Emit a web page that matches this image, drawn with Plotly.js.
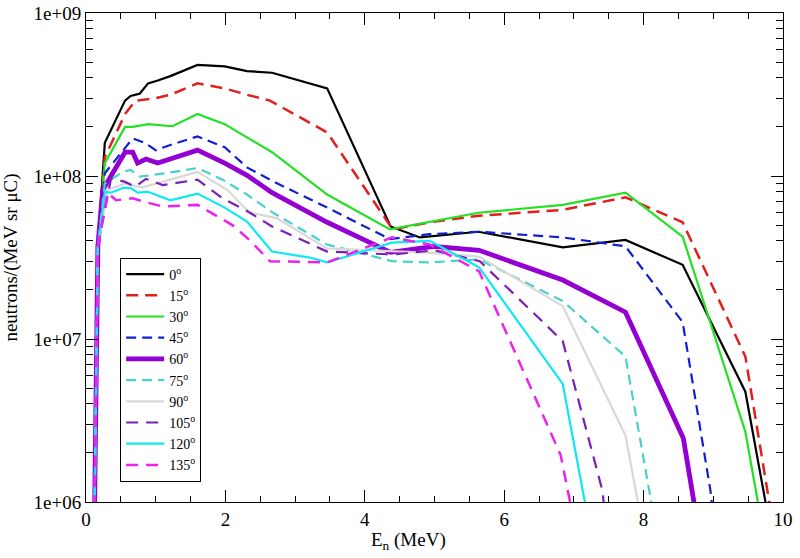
<!DOCTYPE html>
<html>
<head>
<meta charset="utf-8">
<script src="https://cdn.plot.ly/plotly-3.0.1.min.js"></script>
<style>html,body{margin:0;padding:0;background:#fff;}#chart{width:800px;height:558px;}</style>
</head>
<body>
<div id="chart"></div>
<script>
// Energies (MeV) and yields (neutrons/(MeV sr uC)) per angle
const e0   = [0.12, 0.17, 0.27, 0.56, 0.64, 0.77, 0.89, 1.03, 1.21, 1.6, 1.99, 2.31, 2.67, 3.46, 4.37, 4.79, 5.63, 6.84, 7.74, 8.56, 9.46, 9.79];
const y0   = [7e5, 3.7e7, 1.6e8, 2.9e8, 3.1e8, 3.2e8, 3.7e8, 3.85e8, 4.1e8, 4.8e8, 4.7e8, 4.4e8, 4.3e8, 3.45e8, 4.9e7, 4.2e7, 4.55e7, 3.65e7, 4.05e7, 2.85e7, 4.75e6, 8e5];
const e15  = [0.12, 0.17, 0.27, 0.56, 0.71, 0.99, 1.21, 1.6, 1.99, 2.31, 2.64, 3.46, 4.4, 4.93, 5.63, 6.84, 7.74, 8.56, 9.46, 9.84];
const y15  = [7e5, 3.7e7, 1.3e8, 2.4e8, 2.9e8, 3.0e8, 3.15e8, 3.7e8, 3.45e8, 3.15e8, 2.9e8, 1.85e8, 4.7e7, 5.2e7, 5.7e7, 6.2e7, 7.4e7, 5.2e7, 7.8e6, 8e5];
const e30  = [0.12, 0.17, 0.27, 0.56, 0.67, 0.89, 1.24, 1.6, 1.99, 2.31, 2.67, 3.46, 4.36, 5.63, 6.84, 7.74, 8.56, 9.46, 9.68];
const y30  = [7e5, 3.7e7, 1.2e8, 2.0e8, 2.0e8, 2.08e8, 2.02e8, 2.4e8, 2.08e8, 1.73e8, 1.4e8, 7.7e7, 4.7e7, 5.95e7, 6.65e7, 7.9e7, 4.25e7, 2.7e6, 8e5];
const e45  = [0.12, 0.17, 0.27, 0.56, 0.67, 0.84, 1.0, 1.21, 1.6, 1.99, 2.31, 2.7, 3.46, 4.36, 4.93, 5.64, 6.84, 7.74, 8.56, 8.96, 9.0];
const y45  = [7e5, 3.7e7, 1.04e8, 1.5e8, 1.7e8, 1.6e8, 1.44e8, 1.55e8, 1.75e8, 1.5e8, 1.13e8, 9.2e7, 6.4e7, 4.1e7, 4.4e7, 4.55e7, 4.2e7, 3.7e7, 1.27e7, 1.17e6, 8e5];
const e60  = [0.12, 0.17, 0.24, 0.56, 0.67, 0.74, 0.86, 1.03, 1.6, 1.99, 2.31, 2.67, 3.46, 4.37, 4.99, 5.64, 6.84, 7.74, 8.57, 8.76];
const y60  = [7e5, 3.7e7, 8.2e7, 1.4e8, 1.4e8, 1.2e8, 1.27e8, 1.2e8, 1.44e8, 1.2e8, 1.01e8, 7.9e7, 5.2e7, 3.4e7, 3.7e7, 3.5e7, 2.3e7, 1.46e7, 2.46e6, 8e5];
const e75  = [0.12, 0.17, 0.27, 0.53, 0.64, 0.77, 1.14, 1.6, 1.96, 2.31, 2.67, 3.46, 4.39, 4.93, 5.64, 6.84, 7.74, 8.15];
const y75  = [7e5, 3.7e7, 9e7, 1.06e8, 1.09e8, 9.9e7, 1.04e8, 1.12e8, 9.5e7, 7.7e7, 6.0e7, 3.8e7, 3.0e7, 2.95e7, 3.08e7, 1.71e7, 7.8e6, 8e5];
const e90  = [0.12, 0.17, 0.31, 0.56, 0.8, 1.2, 1.6, 2.03, 2.34, 2.5, 2.74, 3.46, 4.46, 4.93, 5.64, 6.84, 7.74, 7.96];
const y90  = [7e5, 3.7e7, 8.2e7, 9.0e7, 8.5e7, 9.5e7, 1.06e8, 8.2e7, 6.0e7, 5.8e7, 5.5e7, 3.6e7, 3.45e7, 3.38e7, 3.2e7, 1.59e7, 2.56e6, 8e5];
const e105 = [0.12, 0.17, 0.36, 0.56, 0.71, 0.86, 1.1, 1.6, 1.96, 2.31, 2.67, 3.46, 4.4, 5.0, 5.65, 6.84, 7.41, 7.45];
const y105 = [7e5, 3.7e7, 9.7e7, 9.2e7, 8.6e7, 9.6e7, 8.8e7, 9.5e7, 7.3e7, 6.1e7, 4.9e7, 3.44e7, 3.3e7, 3.5e7, 3.0e7, 9.7e6, 1.17e6, 8e5];
const e120 = [0.12, 0.17, 0.27, 0.36, 0.53, 0.64, 0.74, 0.89, 1.21, 1.6, 1.99, 2.31, 2.67, 3.21, 3.46, 4.39, 4.93, 5.64, 6.84, 7.2];
const y120 = [7e5, 3.7e7, 8e7, 7.9e7, 8.45e7, 8.45e7, 7.9e7, 8e7, 7.1e7, 7.8e7, 6.4e7, 5.25e7, 3.44e7, 3.16e7, 2.95e7, 3.9e7, 4.0e7, 2.75e7, 5.3e6, 8e5];
const e135 = [0.12, 0.17, 0.31, 0.43, 0.67, 0.86, 1.1, 1.6, 2.1, 2.34, 2.64, 3.46, 4.39, 4.93, 5.64, 6.81, 6.99];
const y135 = [7e5, 3.7e7, 7.9e7, 7.1e7, 7.3e7, 6.9e7, 6.5e7, 6.65e7, 5.0e7, 4.07e7, 3.0e7, 2.95e7, 4.2e7, 3.8e7, 2.6e7, 1.94e6, 8e5];

const angleLabels = ['0', '15', '30', '45', '60', '75', '90', '105', '120', '135'];
const xTickVals = [0, 2, 4, 6, 8, 10];
const yTickVals = [1e6, 1e7, 1e8, 1e9];
const yTickText = ['1e+06', '1e+07', '1e+08', '1e+09'];
const yMinorVals = [2e6,3e6,4e6,5e6,6e6,7e6,8e6,9e6,2e7,3e7,4e7,5e7,6e7,7e7,8e7,9e7,2e8,3e8,4e8,5e8,6e8,7e8,8e8,9e8];

const xs = [e0, e15, e30, e45, e60, e75, e90, e105, e120, e135];
const ys = [y0, y15, y30, y45, y60, y75, y90, y105, y120, y135];
const styles = [
  {color: '#000000', width: 2.2, dash: 'solid'},
  {color: '#e0201c', width: 2.5, dash: '12px,7px'},
  {color: '#22e022', width: 2.2, dash: 'solid'},
  {color: '#1020d0', width: 2.2, dash: '10px,6px'},
  {color: '#9400d3', width: 4.8, dash: 'solid'},
  {color: '#48d1cc', width: 2.2, dash: '10px,6px'},
  {color: '#d8d8d8', width: 2.2, dash: 'solid'},
  {color: '#7a1fb8', width: 2.2, dash: '12px,8px'},
  {color: '#10e8f0', width: 2.2, dash: 'solid'},
  {color: '#ee22ee', width: 2.5, dash: '12px,8px'}
];

const traces = angleLabels.map((a, i) => ({
  x: xs[i], y: ys[i], type: 'scatter', mode: 'lines',
  name: a + '<sup>o</sup>',
  line: styles[i]
}));

const FAM = 'Liberation Serif, serif';
const font = {family: FAM, color: '#000'};

const layout = {
  width: 800, height: 558,
  margin: {l: 86, r: 17, t: 13, b: 56},
  paper_bgcolor: '#fff', plot_bgcolor: '#fff',
  font: Object.assign({size: 18}, font),
  showlegend: true,
  legend: {
    x: 0.049, y: 0.50, xanchor: 'left', yanchor: 'top',
    bgcolor: '#fff', bordercolor: '#000', borderwidth: 1,
    font: Object.assign({size: 14}, font),
    itemwidth: 38,
    tracegroupgap: 0
  },
  annotations: [{
    text: 'E<sub>n</sub> (MeV)', xref: 'paper', yref: 'paper',
    x: 0.462, y: -0.052, xanchor: 'center', yanchor: 'top', showarrow: false,
    font: Object.assign({size: 19}, font)
  }],
  xaxis: {
    range: [0, 10], tickmode: 'array', tickvals: xTickVals,
    ticks: 'inside', ticklen: 12, tickwidth: 1, tickcolor: '#000',
    minor: {dtick: 0.5, ticks: 'inside', ticklen: 6, tickcolor: '#000', showgrid: false},
    showline: true, linecolor: '#000', linewidth: 1, mirror: 'allticks',
    showgrid: false, zeroline: false,
    tickfont: Object.assign({size: 19}, font)
  },
  yaxis: {
    type: 'log', range: [6, 9], tickmode: 'array', tickvals: yTickVals, ticktext: yTickText,
    ticks: 'inside', ticklen: 12, tickwidth: 1, tickcolor: '#000',
    minor: {tickmode: 'array', tickvals: yMinorVals, ticks: 'inside', ticklen: 7, tickcolor: '#000', showgrid: false},
    showline: true, linecolor: '#000', linewidth: 1, mirror: 'allticks',
    showgrid: false, zeroline: false,
    tickfont: Object.assign({size: 19}, font),
    title: {text: 'neutrons/(MeV sr μC)', font: Object.assign({size: 19}, font), standoff: 10}
  }
};

Plotly.newPlot('chart', traces, layout, {displayModeBar: false, staticPlot: true});
</script>
</body>
</html>
